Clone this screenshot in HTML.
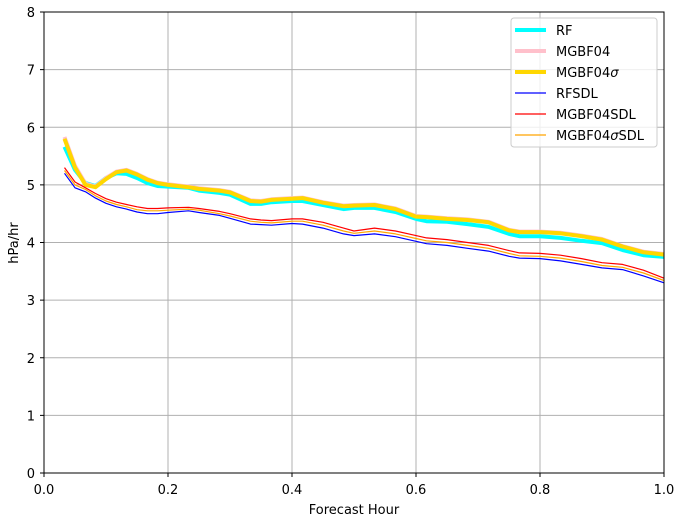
<!DOCTYPE html>
<html><head><meta charset="utf-8"><style>
body{margin:0;background:#fff;font-family:"Liberation Sans","DejaVu Sans",sans-serif}
svg text{font-family:"DejaVu Sans","Liberation Sans",sans-serif;font-size:13px;fill:#000}
</style></head><body>
<svg id="chart" width="682" height="521">
<g id="grid"></g>
<g id="series"></g>
<rect x="44" y="12" width="620" height="461" fill="none" stroke="#000" stroke-width="1"/>
<g id="ticks"></g>
<text x="354" y="514" text-anchor="middle">Forecast Hour</text>
<text x="18" y="243" text-anchor="middle" transform="rotate(-90 18 243)">hPa/hr</text>
<g id="legend"></g>
</svg>
<script>
const xs=[0.033,0.05,0.067,0.083,0.1,0.117,0.133,0.15,0.167,0.183,0.2,0.233,0.25,0.283,0.3,0.333,0.35,0.367,0.4,0.417,0.45,0.483,0.5,0.533,0.567,0.6,0.617,0.65,0.683,0.717,0.75,0.767,0.8,0.833,0.867,0.9,0.933,0.967,1.0];
const rf=[5.66,5.26,5.03,4.98,5.12,5.2,5.19,5.12,5.03,4.98,4.97,4.95,4.9,4.86,4.83,4.67,4.67,4.7,4.72,4.72,4.65,4.58,4.6,4.6,4.53,4.41,4.37,4.36,4.32,4.27,4.15,4.11,4.11,4.08,4.03,3.99,3.87,3.78,3.75];
const mgbf=[5.83,5.33,5.02,4.97,5.12,5.23,5.26,5.19,5.1,5.04,5.01,4.97,4.94,4.91,4.88,4.73,4.72,4.75,4.77,4.78,4.7,4.64,4.65,4.66,4.59,4.46,4.45,4.42,4.4,4.36,4.22,4.19,4.19,4.17,4.12,4.06,3.94,3.84,3.8];
const mgbfs=[5.8,5.3,5.0,4.96,5.1,5.22,5.25,5.18,5.09,5.03,5.0,4.96,4.93,4.9,4.87,4.72,4.71,4.74,4.76,4.77,4.69,4.63,4.64,4.65,4.58,4.45,4.44,4.41,4.39,4.35,4.21,4.18,4.18,4.16,4.11,4.05,3.93,3.83,3.79];
const rfsdl=[5.2,4.95,4.88,4.77,4.68,4.62,4.58,4.53,4.5,4.5,4.52,4.55,4.52,4.47,4.42,4.32,4.31,4.3,4.33,4.32,4.25,4.15,4.12,4.15,4.1,4.02,3.98,3.95,3.9,3.85,3.76,3.73,3.72,3.68,3.62,3.56,3.53,3.42,3.3];
const red=[5.3,5.05,4.95,4.85,4.76,4.7,4.66,4.62,4.59,4.59,4.6,4.61,4.59,4.54,4.5,4.41,4.39,4.38,4.41,4.41,4.35,4.25,4.2,4.25,4.2,4.12,4.08,4.05,4.0,3.95,3.86,3.82,3.81,3.78,3.72,3.65,3.62,3.52,3.38];
const orange=[5.25,5.0,4.92,4.81,4.72,4.66,4.62,4.57,4.55,4.55,4.56,4.58,4.56,4.5,4.46,4.37,4.35,4.34,4.37,4.37,4.3,4.2,4.16,4.2,4.15,4.07,4.03,4.0,3.95,3.9,3.81,3.77,3.76,3.73,3.67,3.6,3.57,3.47,3.34];
const xTicks=[0,0.2,0.4,0.6,0.8,1.0];
const yTicks=[0,1,2,3,4,5,6,7,8];
const legendLabels=["RF","MGBF04","MGBF04σ","RFSDL","MGBF04SDL","MGBF04σSDL"];
const NS="http://www.w3.org/2000/svg";
const X=v=>44+v*620, Y=v=>473-v*461/8;
function mk(t,a,p){const e=document.createElementNS(NS,t);for(const k in a)e.setAttribute(k,a[k]);p.appendChild(e);return e;}
const grid=document.getElementById('grid'),ticks=document.getElementById('ticks');
xTicks.forEach(v=>{const g=mk('line',{x1:X(v),x2:X(v),y1:12,y2:473,stroke:'#b0b0b0','stroke-width':1},grid);


mk('line',{x1:X(v),x2:X(v),y1:473,y2:477,stroke:'#000'},ticks);
const t=mk('text',{x:X(v),y:494,'text-anchor':'middle'},ticks);t.textContent=v.toFixed(1);

});
yTicks.forEach(v=>{const g=mk('line',{x1:44,x2:664,y1:Y(v),y2:Y(v),stroke:'#b0b0b0','stroke-width':1},grid);


mk('line',{x1:40,x2:44,y1:Y(v),y2:Y(v),stroke:'#000'},ticks);
const t=mk('text',{x:35,y:Y(v)+5,'text-anchor':'end'},ticks);t.textContent=v;

});
const styles=[[rf,'#00ffff',4,'series-rf'],[mgbf,'#ffc0cb',4,'series-mgbf04'],[mgbfs,'#ffd700',4,'series-mgbf04-sigma'],[rfsdl,'#0000ff',1.2,'series-rfsdl'],[red,'#ff0000',1.2,'series-mgbf04sdl'],[orange,'#ffa500',1.2,'series-mgbf04-sigma-sdl']];
const sg=document.getElementById('series');
styles.forEach(s=>{const d=s[0].map((v,i)=>(i?'L':'M')+X(xs[i]).toFixed(1)+','+Y(v).toFixed(1)).join('');
const p=mk('path',{d:d,fill:'none',stroke:s[1],'stroke-width':s[2],'stroke-linejoin':'round'},sg);

});
const lg=document.getElementById('legend');
const box=mk('rect',{x:511,y:18,width:146,height:129,rx:3,fill:'#fff','fill-opacity':0.8,stroke:'#ccc'},lg);


legendLabels.forEach((l,i)=>{const y=30+i*21;
mk('line',{x1:515,x2:546,y1:y,y2:y,stroke:styles[i][1],'stroke-width':styles[i][2]},lg);
const t=mk('text',{x:556,y:y+5},lg);
l.split(/(σ)/).forEach(part=>{if(!part)return;const ts=mk('tspan',{},t);ts.textContent=part;if(part==='σ')ts.setAttribute('font-style','italic');});

});
</script>
</body></html>
